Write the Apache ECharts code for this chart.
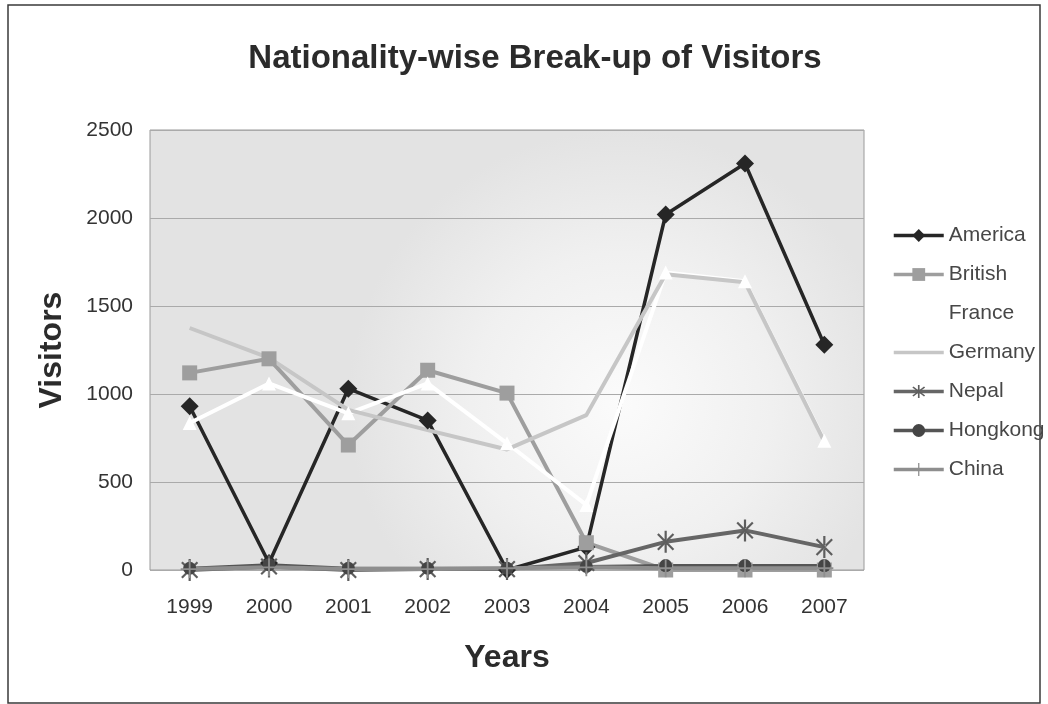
<!DOCTYPE html>
<html>
<head>
<meta charset="utf-8">
<script src="https://cdn.jsdelivr.net/npm/echarts@6/dist/echarts.min.js"></script>
<style>
  html, body { margin: 0; padding: 0; background: #ffffff; }
  #chart { width: 1048px; height: 704px; }
</style>
</head>
<body>
<div id="chart"></div>
<script>
// Visitors per nationality, 1999-2007
const years = ['1999', '2000', '2001', '2002', '2003', '2004', '2005', '2006', '2007'];
const america  = [930, 40, 1030, 850, 0, 130, 2020, 2310, 1280];
const british  = [1120, 1200, 710, 1135, 1005, 155, 0, 0, 0];
const france   = [835, 1060, 890, 1060, 720, 370, 1690, 1640, 735];
const germany  = [1375, 1205, 910, 795, 685, 880, 1680, 1635, 730];
const nepal    = [0, 20, 0, 5, 5, 40, 160, 225, 130];
const hongkong = [10, 30, 10, 10, 10, 20, 25, 25, 25];
const china    = [5, 15, 5, 5, 10, 15, 10, 10, 10];
const yTicks = { min: 0, max: 2500, interval: 500 };

const FONT = '"Liberation Sans", Arial, sans-serif';

// marker shapes: six-armed asterisk and thin plus
const asterisk = 'path://M-1,-10L1,-10L1,10L-1,10Z M-7.8,-6.4L-6.4,-7.8L7.8,6.4L6.4,7.8Z M7.8,-6.4L6.4,-7.8L-7.8,6.4L-6.4,7.8Z';
const plus = 'path://M-1,-10L1,-10L1,10L-1,10Z M-10,-1L10,-1L10,1L-10,1Z';

function lineSeries(name, data, color, symbol, size, width, lineColor) {
  return {
    name: name,
    type: 'line',
    data: data,
    symbol: symbol,
    symbolSize: size,
    symbolKeepAspect: true,
    showSymbol: symbol !== 'none',
    clip: false,
    itemStyle: { color: color },
    lineStyle: { color: lineColor || color, width: width },
    emphasis: { disabled: true },
    animation: false
  };
}

const chart = echarts.init(document.getElementById('chart'), null, { renderer: 'canvas' });

chart.setOption({
  backgroundColor: '#ffffff',
  animation: false,
  title: {
    text: 'Nationality-wise Break-up of Visitors',
    left: 530,
    top: 37,
    textAlign: 'center',
    textStyle: { fontFamily: FONT, fontSize: 33, fontWeight: 'bold', color: '#2b2b2b' }
  },
  graphic: [{
    type: 'rect',
    shape: { x: 8, y: 5, width: 1032, height: 698 },
    style: { fill: 'none', stroke: '#3a3a3a', lineWidth: 1.5 },
    silent: true,
    z: -1
  }],
  legend: {
    orient: 'vertical',
    left: 887,
    top: 220,
    itemWidth: 50,
    itemHeight: 16,
    itemGap: 18,
    lineStyle: { width: 3.5 },
    textStyle: { fontFamily: FONT, fontSize: 21, color: '#474747' },
    data: [
      'America', 'British', 'France',
      // Germany has no point markers, so its key is a plain line
      { name: 'Germany', itemStyle: { opacity: 0 } },
      'Nepal', 'Hongkong', 'China'
    ]
  },
  grid: {
    left: 150,
    right: 184,
    top: 130,
    bottom: 134,
    show: true,
    borderColor: '#9a9a9a',
    borderWidth: 1,
    backgroundColor: new echarts.graphic.RadialGradient(0.66, 0.62, 0.62, [
      { offset: 0, color: '#fbfbfb' },
      { offset: 0.55, color: '#f0f0f0' },
      { offset: 1, color: '#e3e3e3' }
    ])
  },
  xAxis: {
    type: 'category',
    data: years,
    boundaryGap: true,
    axisLine: { show: false },
    axisTick: { show: false },
    axisLabel: { fontFamily: FONT, fontSize: 21, color: '#333333', margin: 27 },
    name: 'Years',
    nameLocation: 'middle',
    nameGap: 72,
    nameTextStyle: { fontFamily: FONT, fontSize: 32, fontWeight: 'bold', color: '#2b2b2b' }
  },
  yAxis: {
    type: 'value',
    min: yTicks.min,
    max: yTicks.max,
    interval: yTicks.interval,
    axisLine: { show: false },
    axisTick: { show: false },
    splitLine: { lineStyle: { color: '#aaaaaa', width: 1 } },
    axisLabel: {
      fontFamily: FONT, fontSize: 21, color: '#333333', margin: 17,
      formatter: function (v) { return String(v); }
    },
    name: 'Visitors',
    nameLocation: 'middle',
    nameGap: 82,
    nameTextStyle: { fontFamily: FONT, fontSize: 32, fontWeight: 'bold', color: '#2b2b2b' }
  },
  series: [
    lineSeries('America', america, '#262626', 'diamond', 18, 3.5),
    lineSeries('British', british, '#9e9e9e', 'rect', 15, 4),
    lineSeries('France', france, '#ffffff', 'triangle', 14, 4),
    lineSeries('Germany', germany, '#c6c6c6', 'none', 0, 4),
    lineSeries('Nepal', nepal, '#5e5e5e', asterisk, 22, 4, '#666666'),
    lineSeries('Hongkong', hongkong, '#454545', 'circle', 13, 3, '#555555'),
    lineSeries('China', china, '#8e8e8e', plus, 18, 4)
  ]
});
</script>
</body>
</html>
